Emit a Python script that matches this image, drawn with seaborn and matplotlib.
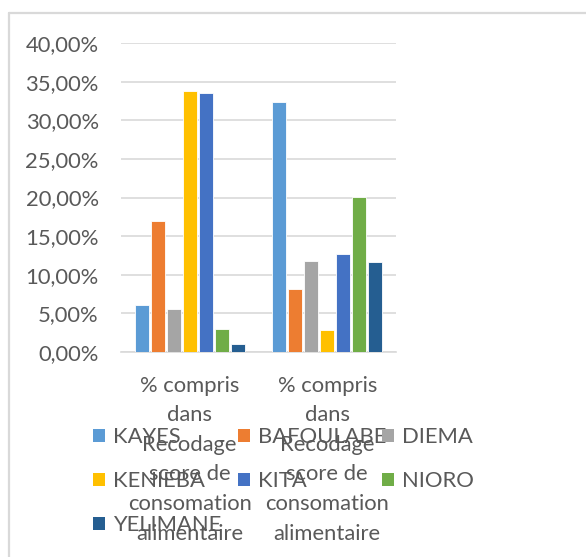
import matplotlib
matplotlib.use("Agg")
import matplotlib.pyplot as plt
import seaborn as sns
import pandas as pd
from matplotlib.lines import Line2D
from matplotlib.patches import Patch
from matplotlib.ticker import FuncFormatter

# Données : part des ménages par cercle, pour chacune des deux colonnes du tableau
cercles = ["KAYES", "BAFOULABE", "DIEMA", "KENIEBA", "KITA", "NIORO", "YELIMANE"]
colonnes = ["col1", "col2"]
etiquettes_x = [
    "% compris\ndans\nRecodage\nscore de\nconsomation\nalimentaire",
    "% compris\ndans\nRecodage\nscore de\nconsomation\nalimentaire",
]
valeurs_col1 = [0.061, 0.170, 0.056, 0.338, 0.335, 0.030, 0.010]
valeurs_col2 = [0.324, 0.082, 0.118, 0.028, 0.127, 0.201, 0.116]
couleurs = ["#5B9BD5", "#ED7D31", "#A5A5A5", "#FFC000", "#4472C4", "#70AD47", "#255E91"]

df = pd.DataFrame({
    "colonne": [colonnes[0]] * len(cercles) + [colonnes[1]] * len(cercles),
    "cercle": cercles * 2,
    "valeur": valeurs_col1 + valeurs_col2,
})

sns.set_theme(style="white")
plt.rcParams["font.family"] = ["Lato", "DejaVu Sans"]
texte = "#595959"
grille = "#D9D9D9"
fs = 15.8

fig = plt.figure(figsize=(5.86, 5.57), dpi=100)
W, H = 586, 557
ax = fig.add_axes([121 / W, 1 - 352 / H, 275 / W, 309 / H])

sns.barplot(data=df, x="colonne", y="valeur", hue="cercle", order=colonnes,
            hue_order=cercles, palette=couleurs, saturation=1, width=0.815, gap=0.15,
            edgecolor="white", linewidth=0.6, legend=False, ax=ax, zorder=3)

ax.set_ylim(0, 0.40)
ax.set_xlim(-0.5, 1.5)
ax.set_yticks([i * 0.05 for i in range(9)])
ax.yaxis.set_major_formatter(FuncFormatter(lambda v, _: f"{v * 100:.2f}%".replace(".", ",")))
ax.grid(axis="y", color=grille, linewidth=1.2, zorder=0)
ax.grid(axis="x", visible=False)
for s in ["top", "right", "left"]:
    ax.spines[s].set_visible(False)
ax.spines["bottom"].set_color(grille)
ax.spines["bottom"].set_linewidth(1.2)
ax.set_xlabel("")
ax.set_ylabel("")
ax.set_xticks(range(len(colonnes)))
ax.set_xticklabels(etiquettes_x, linespacing=1.6)
ax.tick_params(axis="y", length=0, pad=16, labelsize=fs, labelcolor=texte)
ax.tick_params(axis="x", length=0, pad=17, labelsize=fs, labelcolor=texte)

# Légende : une colonne par groupe de cercles, pour des colonnes de largeur égale
colonnes_legende = [[0, 3, 6], [1, 4], [2, 5]]
x_colonnes = [93, 238, 382]
for idx, x0 in zip(colonnes_legende, x_colonnes):
    poignees = [Patch(facecolor=couleurs[i], edgecolor="none") for i in idx]
    libelles = [cercles[i] for i in idx]
    fig.legend(poignees, libelles, ncol=1, loc="upper left",
               bbox_to_anchor=(x0 / W, 1 - 427 / H), frameon=False, fontsize=fs,
               labelcolor=texte, borderpad=0, borderaxespad=0, handlelength=0.55,
               handleheight=0.55, handletextpad=0.35, labelspacing=1.1)

# Cadre de la zone de graphique
fig.add_artist(Line2D([8.5 / W, 8.5 / W], [0, 1 - 13 / H], color=grille, linewidth=1.6))
fig.add_artist(Line2D([8.5 / W, 1], [1 - 13 / H, 1 - 13 / H], color=grille, linewidth=1.6))

fig.savefig("out.png", dpi=100, facecolor="white")
